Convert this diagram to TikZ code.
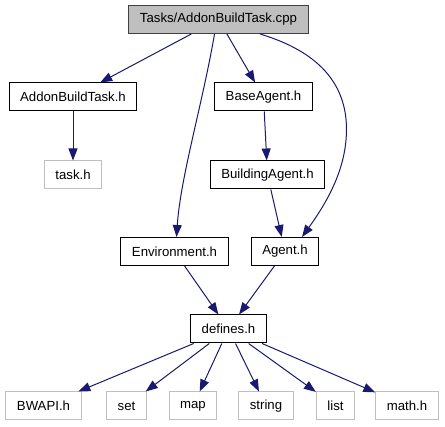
\documentclass[tikz,border=0pt]{standalone}
\usepackage{fontspec}
\setmainfont{Liberation Sans}
\usetikzlibrary{positioning, arrows.meta}
\definecolor{dxblue}{HTML}{191970}
\definecolor{dxgray}{HTML}{BFBFBF}
\definecolor{dxborder}{HTML}{404040}

\begin{document}
\begin{tikzpicture}[x=1pt, y=-1pt,
          f/.style={draw=black, fill=white, line width=1pt, font=\fontsize{13.2}{15}\selectfont, minimum height=28pt, inner xsep=11pt, inner ysep=0pt},
          ext/.style={f, draw=dxgray},
          dep/.style={-{Triangle[length=12pt,width=9pt]}, dxblue, line width=1pt}]
        \useasboundingbox (0,0) rectangle (445,427);
        \node[f, fill=dxgray, draw=dxborder] (cpp) at (218.5,19.5) {Tasks/AddonBuildTask.cpp};
        \node[f] (abt) at (73,97) {AddonBuildTask.h};
        \node[ext, below=49pt of abt] (task) {task.h};
        \node[f] (base) at (263.5,97) {BaseAgent.h};
        \node[f, below=49pt of base, xshift=4pt] (bld) {BuildingAgent.h};
        \node[f] (env) at (174.5,251.5) {Environment.h};
        \node[f] (agent) at (285,251.5) {Agent.h};
        \node[f] (def) at (228.5,329) {defines.h};
        \draw[dep] (cpp) -- (abt);
        \draw[dep] (cpp) -- (base);
        \draw[dep] (abt) -- (task);
        \draw[dep] (base) -- (bld);
        \draw[dep] (bld) -- (agent);
        \draw[dep] ([xshift=-4pt]cpp.south) .. controls +(-12,70) and +(4,-60) .. ([xshift=2pt]env.north);
        \draw[dep] ([xshift=41.5pt]cpp.south) .. controls (330,55) and (350,95) .. (346,140)
              .. controls (343,175) and (325,205) .. ([xshift=17pt]agent.north);
        \draw[dep] (env) -- (def);
        \draw[dep] (agent) -- (def);
        \foreach \nm/\tx/\xx in {bwapi/BWAPI.h/43.5, set/set/126.5, map/map/193, str/string/266, list/list/335.5, math/math.h/407} {
          \node[ext] (\nm) at (\xx,406) {\tx};
          \draw[dep] (def) -- (\nm);
        }
      \end{tikzpicture}
\end{document}
